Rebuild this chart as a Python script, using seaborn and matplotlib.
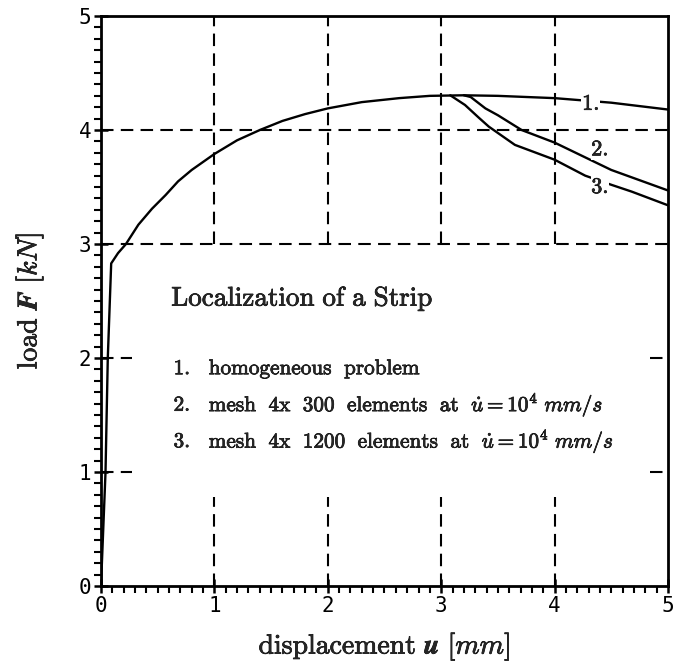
import matplotlib
matplotlib.use("Agg")
import matplotlib.pyplot as plt
import matplotlib.patheffects as pe
from matplotlib.ticker import MultipleLocator
import seaborn as sns
import pandas as pd

# ---- data ----
x_hom = [0.0, 0.04, 0.06, 0.09, 0.15, 0.22, 0.33, 0.45, 0.57, 0.68, 0.80, 0.90,
         1.0, 1.2, 1.4, 1.6, 1.8, 2.0, 2.3, 2.63, 2.9, 3.2, 3.5, 3.75, 4.0,
         4.25, 4.5, 4.75, 5.0]
y_hom = [0.0, 1.0, 2.0, 2.83, 2.92, 3.0, 3.17, 3.31, 3.43, 3.55, 3.65, 3.72,
         3.79, 3.91, 4.00, 4.08, 4.14, 4.19, 4.245, 4.28, 4.30, 4.305, 4.30, 4.29, 4.28,
         4.26, 4.24, 4.21, 4.18]

x_m300 = [3.2, 3.26, 3.39, 3.5, 3.71, 4.0, 4.25, 4.5, 4.75, 5.0]
y_m300 = [4.305, 4.29, 4.19, 4.13, 4.00, 3.89, 3.77, 3.65, 3.56, 3.47]

x_m1200 = [3.08, 3.21, 3.33, 3.42, 3.65, 4.0, 4.27, 4.5, 4.68, 5.0]
y_m1200 = [4.305, 4.22, 4.11, 4.03, 3.87, 3.74, 3.60, 3.52, 3.46, 3.34]

curve_labels = ["1.", "2.", "3."]
label_x = [4.32, 4.40, 4.40]
label_y = [4.23, 3.83, 3.50]

legend_title = r"$\mathrm{Localization\ of\ a\ Strip}$"
legend_items = [r"$\mathrm{homogeneous\ \ problem}$",
                r"$\mathrm{mesh\ \ 4x\ \ 300\ \ elements\ \ at\ \ }\dot{u}=10^4\ mm/s$",
                r"$\mathrm{mesh\ \ 4x\ \ 1200\ \ elements\ \ at\ \ }\dot{u}=10^4\ mm/s$"]

xticks = [0, 1, 2, 3, 4, 5]
yticks = [0, 1, 2, 3, 4, 5]

# ---- style ----
sns.set_theme(style="ticks")
plt.rcParams["font.family"] = ["DejaVu Sans Mono", "DejaVu Sans"]
plt.rcParams["mathtext.fontset"] = "cm"

fig = plt.figure(figsize=(6.75, 6.69), dpi=100)
ax = fig.add_axes([0.1496, 0.124, 0.840, 0.852])

df = pd.concat([
    pd.DataFrame({"u": x_hom, "F": y_hom, "c": "1"}),
    pd.DataFrame({"u": x_m300, "F": y_m300, "c": "2"}),
    pd.DataFrame({"u": x_m1200, "F": y_m1200, "c": "3"}),
])
sns.lineplot(data=df, x="u", y="F", units="c", estimator=None, sort=False,
             color="black", linewidth=1.7, ax=ax, zorder=3)

# dashed grid segments (interrupted by the legend area)
dash = dict(color="black", linewidth=1.5, linestyle=(0, (6, 3.5)), zorder=1)
ax.hlines([3, 4], 0, 5, **dash)
ax.vlines([1, 2, 3, 4], 3, 5, **dash)
ax.vlines([1, 2, 3, 4], 0, 0.78, **dash)
ax.hlines([1, 2], 0, 0.27, **dash)
ax.hlines([1, 2], 4.84, 5, **dash)

bold = [pe.withStroke(linewidth=0.5, foreground="black")]

# curve labels
for t, lx, ly in zip(curve_labels, label_x, label_y):
    ax.text(lx, ly, r"$\mathrm{%s}$" % t, fontsize=16, ha="center", va="center",
            zorder=4, path_effects=bold,
            bbox=dict(facecolor="white", edgecolor="none", pad=0.5))

# legend block
ax.text(0.62, 2.52, legend_title, fontsize=19.5, ha="left", va="center",
        path_effects=bold)
for i, (yy, item) in enumerate(zip([1.91, 1.59, 1.27], legend_items)):
    ax.text(0.64, yy, r"$\mathrm{%d.}$" % (i + 1), fontsize=15.3, ha="left",
            va="center", path_effects=bold)
    ax.text(0.95, yy, item, fontsize=15.3, ha="left", va="center",
            path_effects=bold)

ax.set_xlim(0, 5)
ax.set_ylim(0, 5)
ax.set_xticks(xticks)
ax.set_yticks(yticks)
ax.set_xticklabels([str(v) for v in xticks])
ax.set_yticklabels([str(v) for v in yticks])
ax.xaxis.set_minor_locator(MultipleLocator(0.1))
ax.yaxis.set_minor_locator(MultipleLocator(0.1))
ax.tick_params(which="major", direction="inout", length=10, width=1.8,
               labelsize=15, pad=2, colors="black")
ax.tick_params(which="minor", direction="out", length=5, width=1.5, colors="black")
for s in ax.spines.values():
    s.set_visible(True)
    s.set_linewidth(2.0)
    s.set_color("black")

ax.set_xlabel(r"$\mathrm{displacement}\ \boldsymbol{u}\ [mm]$", fontsize=20,
              labelpad=10, path_effects=bold)
ax.set_ylabel(r"$\mathrm{load}\ \boldsymbol{F}\ [kN]$", fontsize=20,
              labelpad=24, path_effects=bold)
ax.set_facecolor("white")

fig.savefig("out.png", dpi=100, facecolor="white")
